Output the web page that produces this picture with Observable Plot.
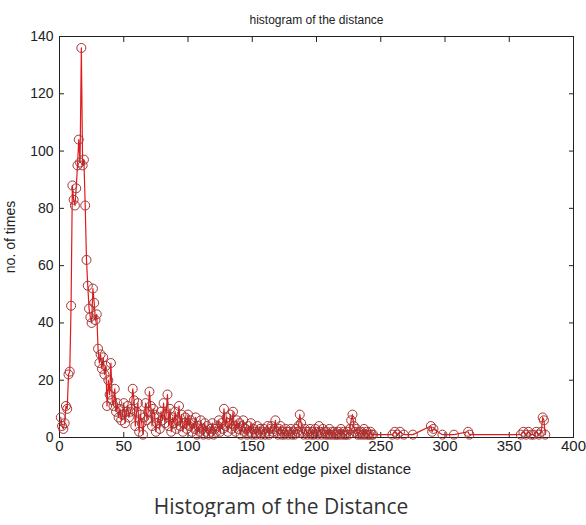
<!DOCTYPE html>
<html>
<head>
<meta charset="utf-8">
<script src="https://cdn.jsdelivr.net/npm/d3@7"></script>
<script src="https://cdn.jsdelivr.net/npm/@observablehq/plot@0.6"></script>
<style>
  html, body { margin: 0; padding: 0; background: #fff; }
  #caption { width: 562px; text-align: center; font-family: "Open Sans", sans-serif; font-size: 21px; line-height: 21px; padding-top: 16px; color: #333; }
</style>
</head>
<body>
<div id="chart"></div>
<div id="caption">Histogram of the Distance</div>
<script>
const title = "histogram of the distance";
const xLabel = "adjacent edge pixel distance";
const yLabel = "no. of times";
const xTicks = [0, 50, 100, 150, 200, 250, 300, 350, 400];
const yTicks = [0, 20, 40, 60, 80, 100, 120, 140];

const distance = [
  1, 2, 3, 4, 5, 6, 7, 8, 9, 10, 11, 12, 13, 14, 15, 16, 17, 18, 19, 20,
  21, 22, 23, 24, 25, 26, 27, 28, 29, 30, 31, 32, 33, 34, 35, 36, 37, 38, 39, 40,
  41, 42, 43, 44, 45, 46, 47, 48, 49, 50, 51, 52, 53, 54, 55, 56, 57, 58, 59, 60,
  61, 62, 63, 64, 65, 66, 67, 68, 69, 70, 71, 72, 73, 74, 75, 76, 77, 78, 79, 80,
  81, 82, 83, 84, 85, 86, 87, 88, 89, 90, 91, 92, 93, 94, 95, 96, 97, 98, 99, 100,
  101, 102, 103, 104, 105, 106, 107, 108, 109, 110, 111, 112, 113, 114, 115, 116, 117, 118, 119, 120,
  121, 122, 123, 124, 125, 126, 127, 128, 129, 130, 131, 132, 133, 134, 135, 136, 137, 138, 139, 140,
  141, 142, 143, 144, 145, 146, 147, 148, 149, 150, 151, 152, 153, 154, 155, 156, 157, 158, 159, 160,
  161, 162, 163, 164, 165, 166, 167, 168, 169, 170, 171, 172, 173, 174, 175, 176, 177, 178, 179, 180,
  181, 182, 183, 184, 185, 186, 187, 188, 189, 190, 191, 192, 193, 194, 195, 196, 197, 198, 199, 200,
  201, 202, 203, 204, 205, 206, 207, 208, 209, 210, 211, 212, 213, 214, 215, 216, 217, 218, 219, 220,
  221, 222, 223, 224, 225, 226, 227, 228, 229, 230, 231, 232, 233, 234, 235, 236, 237, 238, 239, 240,
  241, 242, 243, 244,
  259, 261, 263, 265, 268, 275, 289, 290, 291, 298, 307, 318, 319,
  359, 361, 363, 365, 367, 369, 371, 373, 375, 376, 377, 378
];

const times = [
  7, 4, 3, 5, 11, 10, 22, 23, 46, 88, 83, 81, 87, 95, 104, 96, 136, 95, 97, 81,
  62, 53, 45, 42, 40, 52, 47, 41, 43, 31, 26, 29, 24, 28, 22, 25, 11, 20, 15, 26,
  13, 11, 17, 9, 12, 7, 10, 6, 8, 12, 5, 9, 11, 7, 9, 10, 17, 13, 4, 9,
  12, 2, 8, 5, 1, 7, 12, 6, 9, 16, 11, 4, 10, 8, 2, 5, 7, 3, 9, 6,
  12, 5, 8, 15, 4, 10, 2, 7, 5, 9, 3, 6, 11, 4, 8, 2, 5, 7, 3, 8,
  4, 6, 2, 5, 3, 7, 1, 4, 2, 6, 3, 1, 5, 2, 4, 1, 3, 2, 5, 1,
  3, 2, 4, 6, 2, 5, 3, 10, 4, 7, 2, 5, 8, 3, 9, 4, 2, 6, 3, 5,
  1, 4, 6, 2, 3, 1, 4, 2, 5, 1, 3, 2, 1, 4, 2, 3, 1, 2, 3, 1,
  2, 4, 1, 3, 4, 2, 3, 6, 2, 1, 3, 4, 1, 2, 1, 3, 2, 1, 2, 3,
  1, 2, 1, 3, 2, 4, 8, 5, 2, 1, 3, 2, 1, 2, 3, 1, 2, 1, 3, 2,
  1, 4, 2, 1, 3, 2, 1, 2, 1, 3, 1, 2, 1, 2, 1, 1, 2, 1, 3, 1,
  2, 1, 1, 2, 1, 3, 6, 8, 4, 2, 3, 1, 2, 1, 2, 1, 3, 1, 2, 1,
  1, 2, 1, 1,
  1, 2, 1, 2, 1, 1, 4, 2, 3, 1, 1, 2, 1,
  1, 2, 1, 2, 1, 1, 2, 1, 2, 7, 6, 1
];

const data = distance.map((d, i) => ({distance: d, times: times[i]}));

const chart = Plot.plot({
  width: 586,
  height: 480,
  marginTop: 36,
  marginBottom: 43,
  marginLeft: 59,
  marginRight: 13,
  style: {fontFamily: "'Liberation Sans', Arial, sans-serif", fontSize: "14px", color: "#222", background: "#fff", overflow: "visible"},
  x: {domain: [0, 400]},
  y: {domain: [0, 140]},
  marks: [
    Plot.frame({stroke: "#222"}),
    Plot.axisX({ticks: xTicks, tickSize: -5, tickPadding: 8, label: xLabel, labelAnchor: "center", labelArrow: "none", labelOffset: 36, fontSize: 15}),
    Plot.axisX({anchor: "top", ticks: xTicks, tickSize: -5, tickFormat: () => "", label: null}),
    Plot.axisY({ticks: yTicks, tickSize: -5, tickPadding: 11, label: yLabel, labelAnchor: "center", labelArrow: "none", labelOffset: 54, fontSize: 14}),
    Plot.axisY({anchor: "right", ticks: yTicks, tickSize: -5, tickFormat: () => "", label: null}),
    Plot.line(data, {x: "distance", y: "times", stroke: "#e01b1b", strokeWidth: 1.2}),
    Plot.dot(data, {x: "distance", y: "times", r: 4.5, stroke: "#a83434", strokeWidth: 1, fill: "none"}),
    Plot.text([title], {frameAnchor: "top", dy: -21, fontSize: 12, fill: "#222"})
  ]
});
document.getElementById("chart").appendChild(chart);
</script>
</body>
</html>
